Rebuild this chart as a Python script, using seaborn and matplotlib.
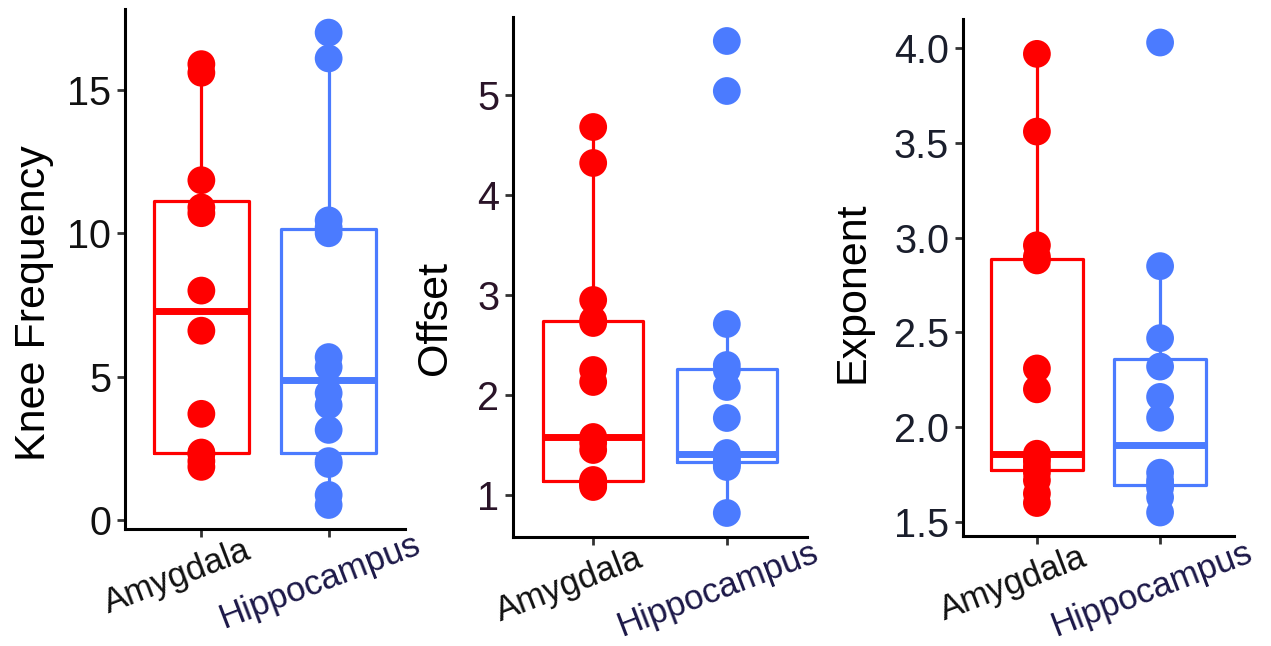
import numpy as np
import pandas as pd
import matplotlib
matplotlib.use("Agg")
import matplotlib.pyplot as plt
import matplotlib.transforms as mtransforms
import seaborn as sns

sns.set_style("white")
plt.rcParams["font.family"] = ["Liberation Sans", "DejaVu Sans"]

# ---------------- data ----------------
regions = ["Amygdala", "Hippocampus"]

knee_amygdala = [15.9, 15.6, 11.85, 10.9, 10.7, 8.0, 6.6, 3.7, 2.35, 2.3, 2.05, 1.85]
knee_hippocampus = [17.0, 16.1, 10.45, 10.2, 10.0, 5.68, 5.33, 4.42, 4.0, 3.14, 2.05, 1.95, 0.87, 0.52]

offset_amygdala = [4.68, 4.32, 2.95, 2.75, 2.72, 2.25, 2.13, 1.58, 1.52, 1.45, 1.15, 1.13, 1.12, 1.1, 1.08]
offset_hippocampus = [5.54, 5.04, 2.71, 2.3, 2.25, 2.08, 1.77, 1.42, 1.40, 1.40, 1.38, 1.34, 1.32, 1.3, 1.28, 0.82]

exponent_amygdala = [3.97, 3.56, 2.96, 2.90, 2.88, 2.31, 2.20, 1.86, 1.84, 1.82, 1.79, 1.76, 1.72, 1.65, 1.60]
exponent_hippocampus = [4.03, 2.85, 2.47, 2.32, 2.16, 2.05, 1.76, 1.72, 1.70, 1.68, 1.63, 1.55]

y_labels = ["Knee Frequency", "Offset", "Exponent"]
y_ticks = [[0, 5, 10, 15], [1, 2, 3, 4, 5], [1.5, 2.0, 2.5, 3.0, 3.5, 4.0]]
y_tick_fmt = ["{:g}", "{:g}", "{:.1f}"]

# ---------------- style ----------------
W, H = 1271, 646
palette = {"Amygdala": "#FF0000", "Hippocampus": "#4B7BFF"}
tick_label_colors = ["#111111", "#2a1428", "#1a1e2c"]
hippo_label_color = "#1c1848"


def px_rect(left, right, top, bottom):
    return [left / W, 1 - bottom / H, (right - left) / W, (bottom - top) / H]


panel_rects = [
    px_rect(125, 405, 9, 528.6),
    px_rect(513, 807, 17.4, 536.6),
    px_rect(963, 1234, 19, 536),
]
label_pos = [(54, 303), (455, 318), (872, 292)]

datasets = [
    (knee_amygdala, knee_hippocampus),
    (offset_amygdala, offset_hippocampus),
    (exponent_amygdala, exponent_hippocampus),
]

fig = plt.figure(figsize=(W / 100, H / 100), dpi=100)

for i, (amy, hip) in enumerate(datasets):
    df = pd.DataFrame({
        "region": ["Amygdala"] * len(amy) + ["Hippocampus"] * len(hip),
        "value": list(amy) + list(hip),
    })
    ax = fig.add_axes(panel_rects[i])
    sns.boxplot(data=df, x="region", y="value", hue="region", order=regions,
                hue_order=regions, palette=palette, fill=False, width=0.75,
                linewidth=2.3, showcaps=False, showfliers=False, whis=1.5,
                medianprops=dict(linewidth=5), legend=False, ax=ax)
    sns.stripplot(data=df, x="region", y="value", hue="region", order=regions,
                  hue_order=regions, palette=palette, jitter=False, size=20,
                  linewidth=0, legend=False, ax=ax, zorder=3)

    vals = np.array(df["value"])
    lo, hi = vals.min(), vals.max()
    pad = 0.05 * (hi - lo)
    ax.set_ylim(lo - pad, hi + pad)
    ax.set_xlim(-0.6, 1.6)

    sns.despine(ax=ax)
    for sp in ["left", "bottom"]:
        ax.spines[sp].set_linewidth(2.2)
        ax.spines[sp].set_color("black")

    ax.set_yticks(y_ticks[i])
    ax.set_yticklabels([y_tick_fmt[i].format(t) for t in y_ticks[i]],
                       color=tick_label_colors[i], fontsize=28.5)
    ax.tick_params(axis="both", left=True, bottom=True, length=6, width=2,
                   color="#333333", pad=4)

    ax.set_xticks([0, 1])
    ax.set_xticklabels(regions, rotation=21, ha="center", va="top",
                       rotation_mode="anchor", fontsize=25)
    xl = ax.get_xticklabels()
    xl[0].set_color("#111111")
    xl[1].set_color(hippo_label_color)
    offs = [(-30, -19), (-15, -24)]
    for lab, (dx, dy) in zip(xl, offs):
        lab.set_transform(lab.get_transform() +
                          mtransforms.ScaledTranslation(dx / 100, dy / 100, fig.dpi_scale_trans))

    ax.set_xlabel("")
    ax.set_ylabel(y_labels[i], fontsize=31, color="black")
    lx, ly = label_pos[i]
    ax.yaxis.set_label_coords(lx / W, 1 - ly / H, transform=fig.transFigure)

fig.savefig("out.png", dpi=100, facecolor="white")
